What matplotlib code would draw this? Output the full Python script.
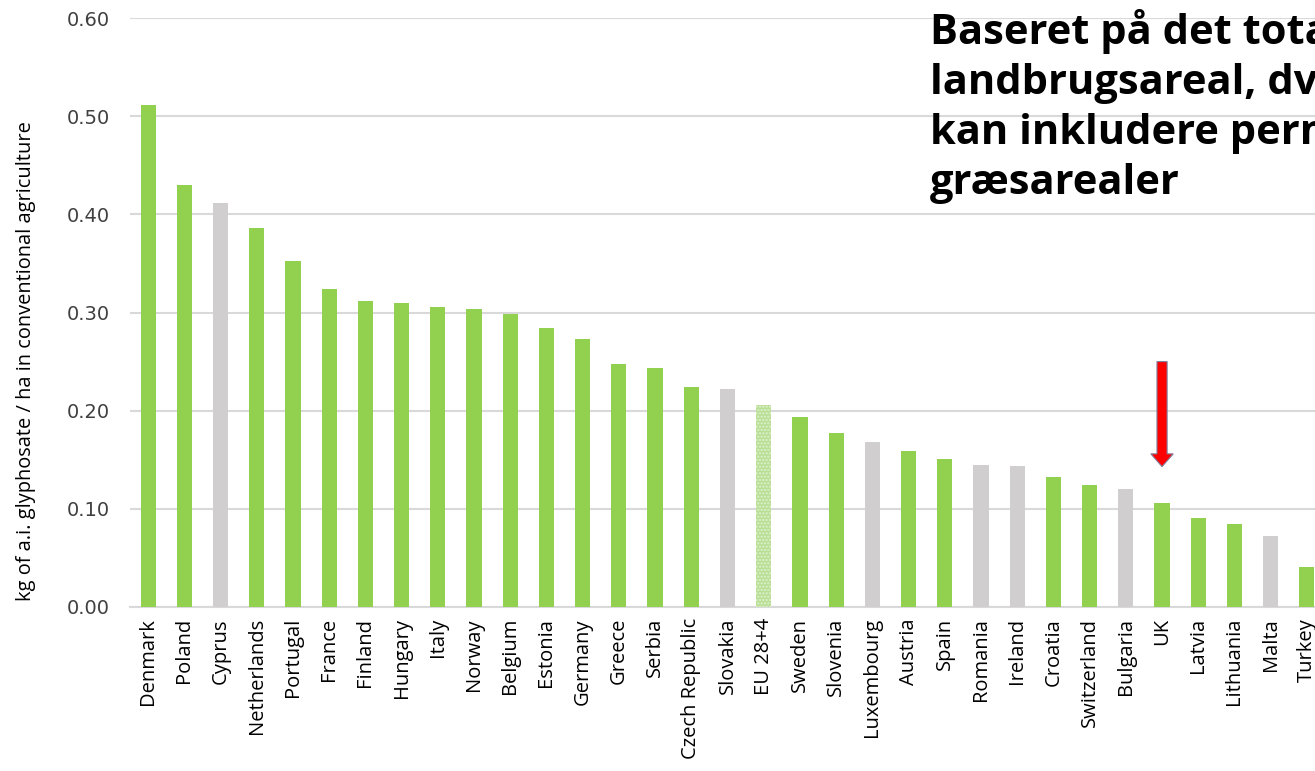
import numpy as np
import matplotlib.pyplot as plt

# glyphosate use per hectare
countries = ['Denmark', 'Poland', 'Cyprus', 'Netherlands', 'Portugal', 'France',
             'Finland', 'Hungary', 'Italy', 'Norway', 'Belgium', 'Estonia',
             'Germany', 'Greece', 'Serbia', 'Czech Republic', 'Slovakia',
             'EU 28+4', 'Sweden', 'Slovenia', 'Luxembourg', 'Austria', 'Spain',
             'Romania', 'Ireland', 'Croatia', 'Switzerland', 'Bulgaria', 'UK',
             'Latvia', 'Lithuania', 'Malta', 'Turkey']
values = [0.511, 0.430, 0.412, 0.386, 0.352, 0.324, 0.312, 0.310, 0.306,
          0.304, 0.298, 0.284, 0.273, 0.248, 0.243, 0.224, 0.222, 0.206,
          0.194, 0.177, 0.168, 0.159, 0.151, 0.145, 0.144, 0.132, 0.124,
          0.120, 0.106, 0.091, 0.085, 0.072, 0.041]
grey_ones = ['Cyprus', 'Slovakia', 'Luxembourg', 'Romania', 'Ireland',
             'Bulgaria', 'Malta']
yticks = [0.0, 0.1, 0.2, 0.3, 0.4, 0.5, 0.6]

GREEN = '#92D050'
GREY = '#D0CECE'

fig = plt.figure(figsize=(13.15, 7.71), dpi=100)
ax = fig.add_axes([130/1315, 164/771, 1195/1315, 589/771])

x = np.arange(len(countries))
for i, (c, v) in enumerate(zip(countries, values)):
    if c == 'EU 28+4':
        ax.bar(i, v, width=0.42, color='#B9DF94', edgecolor='#E2F1D3',
               hatch='.....', linewidth=0, zorder=3)
    else:
        ax.bar(i, v, width=0.42, color=GREY if c in grey_ones else GREEN,
               zorder=3)

ax.set_xlim(-0.5, len(countries) - 0.5)
ax.set_ylim(0, 0.6)
ax.set_yticks(yticks)
ax.set_yticklabels(['%.2f' % t for t in yticks], fontsize=14,
                   color='#404040')
ax.set_xticks(x)
ax.set_xticklabels(countries, rotation=90, fontsize=14.5, family='Open Sans')
ax.tick_params(length=0, pad=8)
ax.tick_params(axis='y', pad=14.5)
ax.grid(axis='y', color='#D9D9D9', linewidth=1.5, zorder=0)
for s in ['top', 'right', 'left']:
    ax.spines[s].set_visible(False)
ax.spines['bottom'].set_color('#D9D9D9')
ax.spines['bottom'].set_linewidth(1.5)

ax.set_ylabel('kg of a.i. glyphosate / ha in conventional agriculture',
              fontsize=14.4, family='Open Sans')
ax.yaxis.set_label_coords(-0.0785, 0.418)

# red arrow pointing at the UK
uk = countries.index('UK')
ax.arrow(uk, 0.25, 0, -0.107, width=0.28, head_width=0.62, head_length=0.013,
         length_includes_head=True, fc='red', ec='#7F7F9F', lw=0.8, zorder=5)

fig.text(930/1315, 1 - 9/771,
         'Baseret på det totale\nlandbrugsareal, dvs.\nkan inkludere permanente\ngræsarealer',
         fontsize=30, fontweight='bold', family='Open Sans', va='top', ha='left',
         linespacing=1.29)

fig.savefig('out.png', dpi=100)
